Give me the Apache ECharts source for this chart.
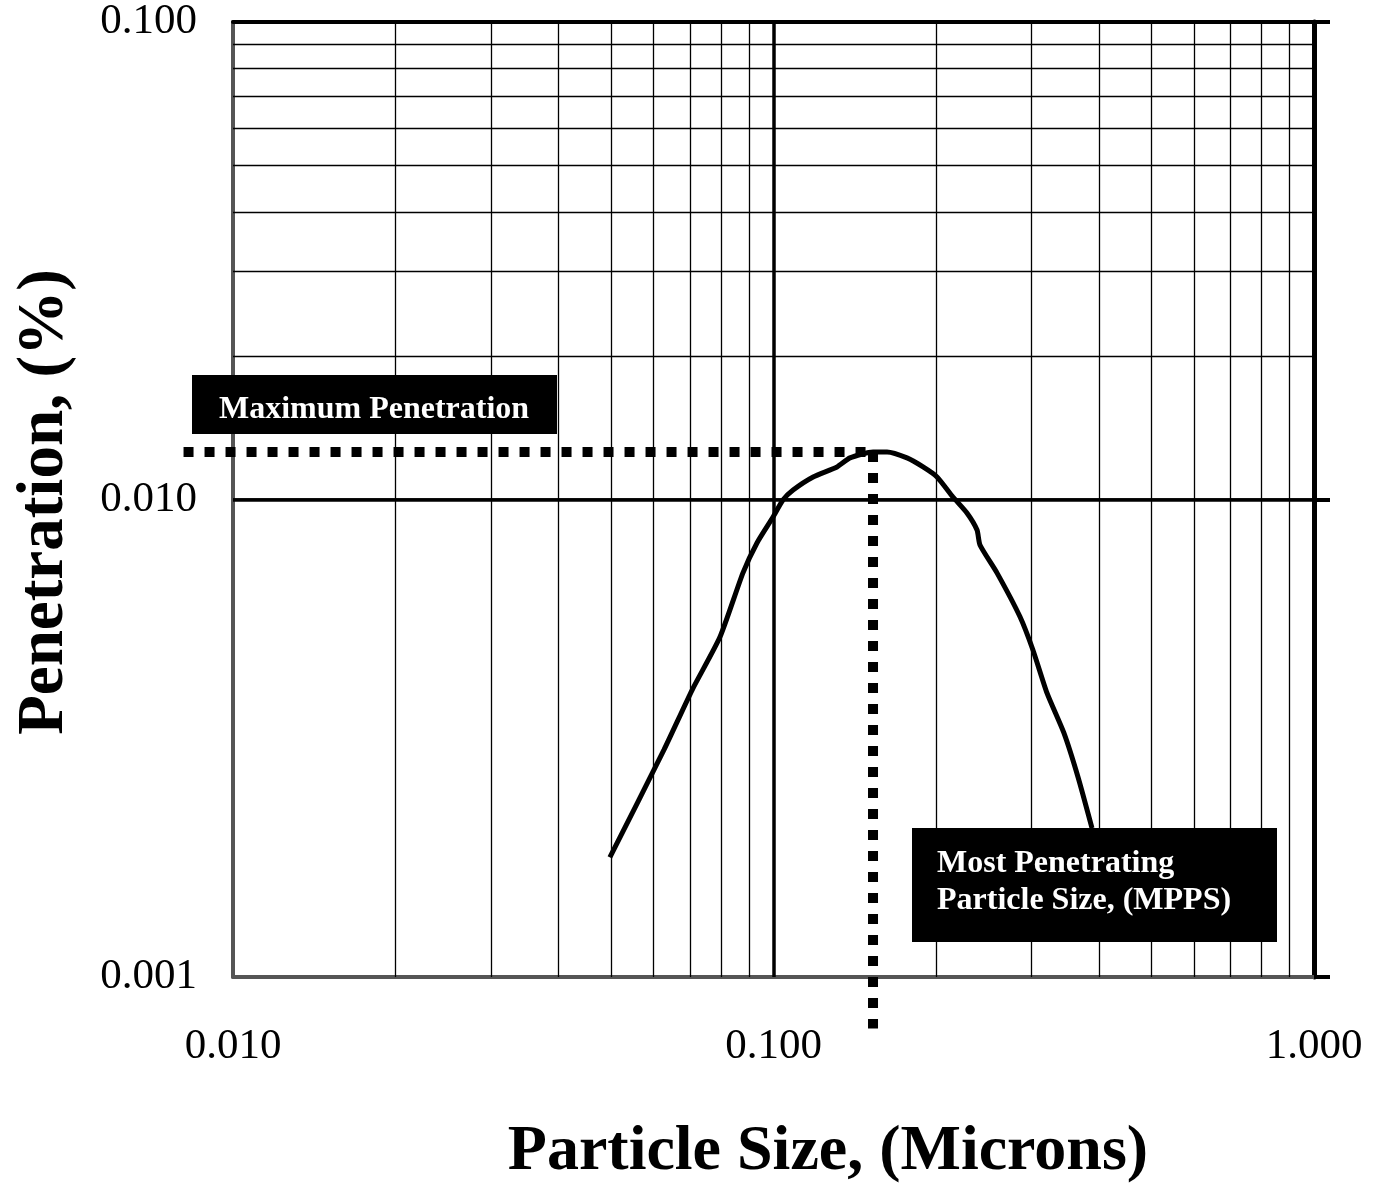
<!DOCTYPE html>
<html><head><meta charset="utf-8">
<script src="https://cdn.jsdelivr.net/npm/echarts@6/dist/echarts.min.js"></script>
<style>html,body{margin:0;padding:0;background:#fff}#c{width:1382px;height:1186px}</style>
</head><body><div id="c"></div>
<script>
// ---- data ----
const xTickLabels = ['0.010', '0.100', '1.000'];
const yTickLabels = ['0.001', '0.010', '0.100'];
const particleSize = [0.0498, 0.0627, 0.0707, 0.0796, 0.0878, 0.0932, 0.0998, 0.1041, 0.1087, 0.1184, 0.1311, 0.1385, 0.1528, 0.1622, 0.1766, 0.1891, 0.2007, 0.2148, 0.228, 0.238, 0.241, 0.2591, 0.2858, 0.302, 0.3207, 0.3447, 0.366, 0.3884];
const penetration  = [0.00178, 0.00299, 0.00399, 0.00515, 0.00702, 0.00811, 0.00919, 0.00998, 0.01047, 0.01115, 0.0117, 0.01222, 0.01258, 0.01258, 0.01222, 0.0117, 0.01115, 0.01012, 0.00937, 0.00863, 0.00803, 0.00702, 0.00568, 0.00484, 0.00393, 0.00324, 0.00262, 0.00205];
const mpps = 0.1528;            // most penetrating particle size
const maxPenetration = 0.01258; // maximum penetration
const refLineXStart = 0.0081;   // horizontal guide starts left of the axis
const refLineYEnd = 0.00078;    // vertical guide ends below the axis
const xDecades = [0.01, 0.1];
const yDecades = [0.001, 0.01];
const minorMultipliers = [2, 3, 4, 5, 6, 7, 8, 9];
const boxLabels = ['Maximum Penetration', 'Most Penetrating\nParticle Size, (MPPS)'];
const xTitle = 'Particle Size, (Microns)';
const yTitle = 'Penetration, (%)';

const FONT = "'Liberation Serif','Times New Roman',serif";
const xMinorVals = [], yMinorVals = [];
xDecades.forEach(d => minorMultipliers.forEach(m => xMinorVals.push(d * m)));
yDecades.forEach(d => minorMultipliers.forEach(m => yMinorVals.push(d * m)));

function fmt(labels) {
  return v => {
    const f = labels.find(t => Math.abs(parseFloat(t) - v) / v < 1e-6);
    return f || v.toFixed(3);
  };
}

// right-side minor tick segments
const tickLen = 1.05;
const rightTicks = [];
yMinorVals.forEach(v => { rightTicks.push([1, v], [tickLen, v], '-'); });

const gridLineData = [];
xMinorVals.forEach(v => gridLineData.push({ xAxis: v, lineStyle: { width: 1.3 } }));
yMinorVals.forEach(v => gridLineData.push({ yAxis: v, lineStyle: { width: 1.3 } }));
gridLineData.push({ xAxis: 0.1, lineStyle: { width: 3.5 } });
gridLineData.push({ yAxis: 0.01, lineStyle: { width: 3.5 } });

// guide segments: [x0, y0, x1, y1]
const guides = [
  [refLineXStart, maxPenetration, mpps, maxPenetration],
  [mpps, maxPenetration, mpps, refLineYEnd]
];

const chart = echarts.init(document.getElementById('c'));
chart.setOption({
  animation: false,
  backgroundColor: '#fff',
  grid: { left: 233, right: 68, top: 22, bottom: 209 },
  xAxis: [{
    type: 'log', logBase: 10, min: 0.01, max: 1,
    axisLine: { lineStyle: { color: '#555', width: 4 } },
    axisTick: { show: false },
    splitLine: { show: false },
    axisLabel: { formatter: fmt(xTickLabels), fontFamily: FONT, fontSize: 43, color: '#000', margin: 48, showMinLabel: true, showMaxLabel: true }
  }, {
    type: 'log', logBase: 10, min: 0.01, max: 1, position: 'top',
    axisLine: { lineStyle: { color: '#000', width: 4 } },
    axisTick: { show: false }, axisLabel: { show: false }, splitLine: { show: false }
  }],
  yAxis: [{
    type: 'log', logBase: 10, min: 0.001, max: 0.1,
    axisLine: { lineStyle: { color: '#555', width: 4 } },
    axisTick: { show: false },
    splitLine: { show: false },
    axisLabel: { formatter: fmt(yTickLabels), fontFamily: FONT, fontSize: 43, color: '#000', margin: 36, padding: [7, 0, 0, 0], showMinLabel: true, showMaxLabel: true }
  }, {
    type: 'log', logBase: 10, min: 0.001, max: 0.1, position: 'right',
    axisLine: { lineStyle: { color: '#000', width: 5 } },
    axisTick: { show: true, inside: false, length: 16, lineStyle: { color: '#000', width: 4 } },
    axisLabel: { show: false }, splitLine: { show: false }
  }],
  series: [{
    type: 'line', data: [], z: 1, silent: true,
    markLine: {
      silent: true, symbol: ['none', 'none'], label: { show: false },
      lineStyle: { color: '#000', type: 'solid', width: 1 },
      emphasis: { disabled: true },
      data: gridLineData
    }
  }, {
    type: 'line', z: 3, clip: false, silent: true, symbol: 'none',
    data: rightTicks, connectNulls: false,
    lineStyle: { color: '#000', width: 4 }
  }, {
    type: 'line', z: 5, symbol: 'none', smooth: 0.2,
    data: particleSize.map((x, i) => [x, penetration[i]]),
    lineStyle: { color: '#000', width: 5 }
  }, {
    type: 'custom', z: 6, clip: false, silent: true,
    data: guides,
    renderItem: function (params, api) {
      const p0 = api.coord([api.value(0), api.value(1)]);
      const p1 = api.coord([api.value(2), api.value(3)]);
      return {
        type: 'line',
        shape: { x1: p0[0], y1: p0[1], x2: p1[0], y2: p1[1] },
        style: { stroke: '#000', lineWidth: 10, lineDash: [10, 11] }
      };
    }
  }],
  graphic: [
    { type: 'rect', z: 10, shape: { x: 192, y: 375, width: 365, height: 59 }, style: { fill: '#000' } },
    { type: 'text', z: 11, x: 374, y: 410, style: { text: boxLabels[0], fill: '#fff', font: 'bold 32px ' + FONT, textAlign: 'center', textVerticalAlign: 'middle' } },
    { type: 'rect', z: 10, shape: { x: 912, y: 828, width: 365, height: 114 }, style: { fill: '#000' } },
    { type: 'text', z: 11, x: 937, y: 882, style: { text: boxLabels[1], fill: '#fff', font: 'bold 32px ' + FONT, lineHeight: 37, textAlign: 'left', textVerticalAlign: 'middle' } },
    { type: 'text', x: 828, y: 1152, style: { text: xTitle, fill: '#000', font: 'bold 64px ' + FONT, textAlign: 'center', textVerticalAlign: 'middle' } },
    { type: 'text', x: 45, y: 502, rotation: Math.PI / 2, style: { text: yTitle, fill: '#000', font: 'bold 65px ' + FONT, textAlign: 'center', textVerticalAlign: 'middle' } }
  ]
});
</script>
</body></html>
